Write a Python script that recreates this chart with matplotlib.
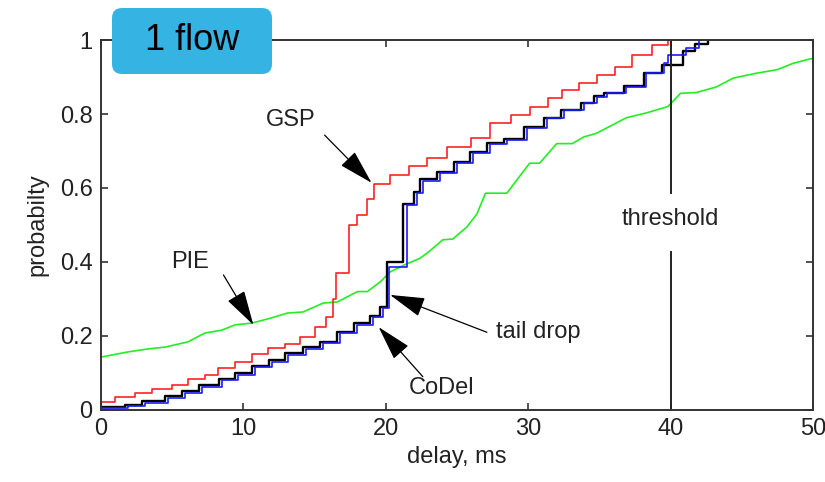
import matplotlib
matplotlib.use("Agg")
import matplotlib.pyplot as plt
from matplotlib.patches import FancyBboxPatch

plt.rcParams['font.family'] = ['Liberation Sans', 'DejaVu Sans']

# delay CDFs (ms, probability)
gsp_x = [0, 1.0, 2.4, 3.6, 5.0, 6.1, 7.3, 8.2, 9.4, 10.6, 11.7, 12.9, 14.0, 15.0, 15.8,
         16.3, 16.5, 17.4, 18.0, 18.7, 19.2, 20.3, 21.6, 22.9, 24.3, 26.0, 27.3, 28.8,
         30.1, 31.4, 32.4, 33.6, 34.8, 36.1, 37.3, 38.7, 39.8]
gsp_y = [0.022, 0.035, 0.046, 0.058, 0.068, 0.085, 0.095, 0.113, 0.13, 0.152, 0.168,
         0.178, 0.197, 0.224, 0.25, 0.30, 0.37, 0.50, 0.527, 0.57, 0.61, 0.635, 0.66,
         0.68, 0.71, 0.735, 0.775, 0.797, 0.82, 0.843, 0.865, 0.884, 0.905, 0.927, 0.96,
         0.986, 1.0]

codel_x = [0, 1.9, 3.1, 4.7, 5.9, 7.1, 8.5, 9.6, 10.8, 12.0, 13.1, 14.4, 15.6, 16.8,
           18.0, 19.1, 19.8, 20.2, 21.5, 22.2, 22.6, 23.8, 25.0, 26.1, 27.3, 28.5, 29.9,
           31.3, 32.5, 33.9, 34.8, 35.5, 36.9, 38.3, 39.5, 39.8, 41.1, 42.0, 43.0]
codel_y = [0.005, 0.01, 0.02, 0.032, 0.046, 0.062, 0.08, 0.095, 0.116, 0.13, 0.149,
           0.165, 0.18, 0.208, 0.23, 0.25, 0.275, 0.387, 0.554, 0.586, 0.62, 0.64, 0.667,
           0.694, 0.72, 0.73, 0.762, 0.788, 0.81, 0.829, 0.846, 0.856, 0.873, 0.91,
           0.937, 0.96, 0.978, 1.0, 1.0]

tail_x = [0, 1.7, 2.9, 4.5, 5.7, 6.9, 8.3, 9.4, 10.6, 11.8, 12.9, 14.2, 15.4, 16.6,
          17.8, 18.9, 19.6, 20.1, 21.2, 22.0, 22.4, 23.6, 24.8, 25.9, 27.1, 28.3, 29.7,
          31.1, 32.3, 33.7, 34.6, 35.3, 36.7, 38.1, 39.4, 40.9, 41.7, 42.6]
tail_y = [0.008, 0.014, 0.025, 0.037, 0.051, 0.067, 0.085, 0.1, 0.12, 0.135, 0.153,
          0.169, 0.185, 0.212, 0.234, 0.254, 0.278, 0.40, 0.558, 0.59, 0.623, 0.643,
          0.67, 0.697, 0.722, 0.733, 0.765, 0.79, 0.812, 0.831, 0.848, 0.858, 0.876,
          0.912, 0.932, 0.97, 0.99, 1.0]

pie_x = [0, 1.9, 3.3, 4.5, 6.1, 7.3, 8.5, 9.4, 10.6, 11.7, 13.1, 14.2, 15.6, 16.6,
         18.0, 18.7, 19.6, 20.3, 21.3, 22.4, 23.0, 24.0, 24.7, 25.7, 26.4, 27.0, 28.5,
         30.1, 30.8, 32.0, 33.1, 33.9, 34.8, 35.5, 36.9, 38.3, 39.8, 40.7, 41.8, 43.2,
         44.4, 46.0, 47.5, 48.6, 49.8, 50]
pie_y = [0.143, 0.157, 0.165, 0.17, 0.184, 0.208, 0.216, 0.23, 0.235, 0.246, 0.262,
         0.265, 0.289, 0.292, 0.32, 0.32, 0.346, 0.373, 0.392, 0.41, 0.427, 0.46, 0.462,
         0.495, 0.53, 0.586, 0.586, 0.667, 0.667, 0.72, 0.72, 0.738, 0.748, 0.762, 0.79,
         0.803, 0.82, 0.856, 0.858, 0.873, 0.897, 0.91, 0.92, 0.937, 0.949, 0.95]

threshold = 40
xticks = [0, 10, 20, 30, 40, 50]
yticks = [0, 0.2, 0.4, 0.6, 0.8, 1]
ytick_labels = ['0', '0.2', '0.4', '0.6', '0.8', '1']

txt = '#222222'
fs = 17

fig = plt.figure(figsize=(8.25, 4.82), dpi=100)
ax = fig.add_axes([0.1224, 0.1494, 0.8631, 0.7676])

ax.plot(pie_x, pie_y, color='#22ee22', lw=1.2)
ax.plot(gsp_x, gsp_y, color='#ff2222', lw=1.2, drawstyle='steps-post')
ax.plot(tail_x, tail_y, color='black', lw=1.7, drawstyle='steps-post')
ax.plot(codel_x, codel_y, color='#1a1aff', lw=1.2, drawstyle='steps-post')

# threshold line, broken around its label
ax.plot([threshold, threshold], [0, 0.427], color='#222222', lw=1.4)
ax.plot([threshold, threshold], [0.586, 1], color='#222222', lw=1.4)
ax.text(threshold, 0.515, 'threshold', ha='center', va='center', fontsize=fs, color=txt)

ax.set_xlim(0, 50)
ax.set_ylim(0, 1)
ax.set_xticks(xticks)
ax.set_yticks(yticks)
ax.set_yticklabels(ytick_labels)
ax.tick_params(direction='in', length=5, width=1.2, colors='#333333',
               labelcolor=txt, labelsize=fs, top=True, right=True, pad=6)
for s in ax.spines.values():
    s.set_color('#333333')
    s.set_linewidth(1.4)
ax.set_xlabel('delay, ms', fontsize=fs, color=txt, labelpad=4)
ax.set_ylabel('probabilty', fontsize=fs, color=txt, labelpad=8)

# labels with arrows pointing at their curves
arrow = dict(arrowstyle='-|>,head_length=1.0,head_width=0.28', color='black', lw=0.9,
             shrinkA=0, shrinkB=0, mutation_scale=22)
ax.annotate('', xy=(19.0, 0.614), xytext=(15.7, 0.743), arrowprops=arrow)
ax.text(13.3, 0.784, 'GSP', fontsize=fs, color=txt, ha='center', va='center')
ax.annotate('', xy=(10.7, 0.23), xytext=(8.6, 0.365), arrowprops=arrow)
ax.text(6.25, 0.40, 'PIE', fontsize=fs, color=txt, ha='center', va='center')
ax.annotate('', xy=(20.3, 0.311), xytext=(27.1, 0.21), arrowprops=arrow)
ax.text(30.7, 0.21, 'tail drop', fontsize=fs, color=txt, ha='center', va='center')
ax.annotate('', xy=(19.5, 0.224), xytext=(22.6, 0.09), arrowprops=arrow)
ax.text(23.9, 0.06, 'CoDel', fontsize=fs, color=txt, ha='center', va='center')

# title badge
badge = FancyBboxPatch((1.12, 4.08), 1.60, 0.66, boxstyle='round,pad=0,rounding_size=0.1',
                       transform=fig.dpi_scale_trans, facecolor='#35b4e4',
                       edgecolor='none', zorder=5)
fig.patches.append(badge)
fig.text(1.92, 4.41, '1 flow', transform=fig.dpi_scale_trans, fontsize=26,
         ha='center', va='center', color='black', zorder=6)

fig.savefig('out.png', dpi=100)
